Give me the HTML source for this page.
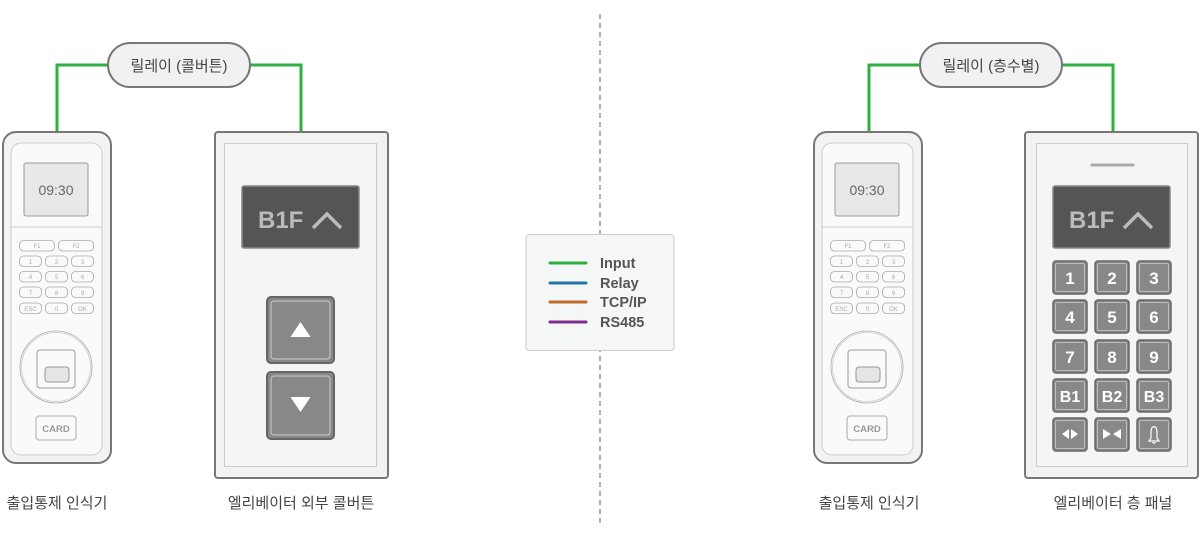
<!DOCTYPE html>
<html><head><meta charset="utf-8"><style>
html,body{margin:0;padding:0;background:#fff;}
svg{display:block;font-family:"Liberation Sans","Noto Sans CJK KR",sans-serif;}
</style></head><body>
<svg width="1200" height="538" viewBox="0 0 1200 538" xmlns="http://www.w3.org/2000/svg">
<defs>
<g id="reader">
  <rect x="3" y="132" width="108" height="331" rx="13" fill="#f3f3f3" stroke="#777" stroke-width="2"/>
  <rect x="11" y="143" width="91" height="312" rx="10" fill="#fafafa" stroke="#ccc" stroke-width="1"/>
  <line x1="11" y1="227" x2="102" y2="227" stroke="#ccc"/>
  <rect x="24" y="163" width="64" height="53" rx="2" fill="#e8e8e8" stroke="#999"/>
  <text x="56" y="195" font-size="14" fill="#666" text-anchor="middle">09:30</text>
  <g fill="none" stroke="#aaa" stroke-width="0.8">
    <rect x="19.5" y="240.5" width="35" height="10.5" rx="4"/>
    <rect x="58.5" y="240.5" width="35" height="10.5" rx="4"/>
    <rect x="19.5" y="256" width="22" height="10.5" rx="4"/><rect x="45.5" y="256" width="22" height="10.5" rx="4"/><rect x="71.5" y="256" width="22" height="10.5" rx="4"/>
    <rect x="19.5" y="271.5" width="22" height="10.5" rx="4"/><rect x="45.5" y="271.5" width="22" height="10.5" rx="4"/><rect x="71.5" y="271.5" width="22" height="10.5" rx="4"/>
    <rect x="19.5" y="287" width="22" height="10.5" rx="4"/><rect x="45.5" y="287" width="22" height="10.5" rx="4"/><rect x="71.5" y="287" width="22" height="10.5" rx="4"/>
    <rect x="19.5" y="303" width="22" height="10.5" rx="4"/><rect x="45.5" y="303" width="22" height="10.5" rx="4"/><rect x="71.5" y="303" width="22" height="10.5" rx="4"/>
  </g>
  <g font-size="6" fill="#aaa" text-anchor="middle">
    <text x="37" y="248">F1</text><text x="76" y="248">F2</text>
    <text x="30.5" y="264">1</text><text x="56.5" y="264">2</text><text x="82.5" y="264">3</text>
    <text x="30.5" y="279">4</text><text x="56.5" y="279">5</text><text x="82.5" y="279">6</text>
    <text x="30.5" y="295">7</text><text x="56.5" y="295">8</text><text x="82.5" y="295">9</text>
    <text x="30.5" y="311">ESC</text><text x="56.5" y="311">0</text><text x="82.5" y="311">OK</text>
  </g>
  <circle cx="56" cy="367" r="36" fill="none" stroke="#aaa" stroke-width="0.8"/>
  <circle cx="56" cy="367" r="34.5" fill="none" stroke="#ccc" stroke-width="0.8"/>
  <rect x="37" y="350" width="38" height="38" rx="3" fill="#fafafa" stroke="#999"/>
  <rect x="45" y="367" width="24" height="15" rx="3" fill="#e5e5e5" stroke="#999"/>
  <rect x="36" y="416" width="40" height="24" rx="3" fill="#fafafa" stroke="#aaa"/>
  <text x="56" y="432" font-size="9.5" font-weight="bold" fill="#999" text-anchor="middle">CARD</text>
</g>
</defs>

<line x1="600" y1="14" x2="600" y2="526" stroke="#999" stroke-width="1.5" stroke-dasharray="5,4"/>

<!-- green connectors -->
<g fill="none" stroke="#2db140" stroke-width="3">
  <polyline points="57,131 57,65 108,65"/>
  <polyline points="250,65 301,65 301,131"/>
  <polyline points="869,131 869,65 920,65"/>
  <polyline points="1062,65 1113,65 1113,131"/>
</g>
<rect x="108" y="43" width="142" height="44" rx="22" fill="#f1f1f1" stroke="#777" stroke-width="2"/>
<text x="179" y="71" font-size="15" fill="#444" text-anchor="middle">릴레이 (콜버튼)</text>
<rect x="920" y="43" width="142" height="44" rx="22" fill="#f1f1f1" stroke="#777" stroke-width="2"/>
<text x="991" y="71" font-size="15" fill="#444" text-anchor="middle">릴레이 (층수별)</text>

<use href="#reader"/>
<use href="#reader" transform="translate(811,0)"/>

<!-- call button panel -->
<rect x="215" y="132" width="173" height="346" rx="3" fill="#f2f2f2" stroke="#777" stroke-width="2"/>
<rect x="224.5" y="143.5" width="152" height="323" fill="#f5f5f5" stroke="#ccc"/>
<rect x="242" y="186" width="117" height="62" rx="2" fill="#555" stroke="#888" stroke-width="1.5"/>
<text x="258" y="228" font-size="24" font-weight="bold" fill="#bbb">B1F</text>
<polyline points="313,228 327,214 341,228" fill="none" stroke="#bbb" stroke-width="3.5"/>
<rect x="267" y="297" width="67" height="66" rx="4" fill="#888" stroke="#666" stroke-width="2"/>
<rect x="271" y="301" width="59" height="58" rx="3" fill="none" stroke="#ccc" stroke-width="1"/>
<polygon points="300.5,322 290.5,337 310.5,337" fill="#fff"/>
<rect x="267" y="372" width="67" height="67" rx="4" fill="#888" stroke="#666" stroke-width="2"/>
<rect x="271" y="376" width="59" height="59" rx="3" fill="none" stroke="#ccc" stroke-width="1"/>
<polygon points="290.5,397 310.5,397 300.5,412" fill="#fff"/>

<!-- floor panel -->
<rect x="1025" y="132" width="173" height="346" rx="3" fill="#f2f2f2" stroke="#777" stroke-width="2"/>
<rect x="1036.5" y="143.5" width="151" height="323" fill="#f5f5f5" stroke="#ccc"/>
<line x1="1092" y1="165" x2="1133" y2="165" stroke="#aaa" stroke-width="3" stroke-linecap="round"/>
<rect x="1053" y="186" width="117" height="62" rx="2" fill="#555" stroke="#888" stroke-width="1.5"/>
<text x="1069" y="228" font-size="24" font-weight="bold" fill="#bbb">B1F</text>
<polyline points="1124,228 1138,214 1152,228" fill="none" stroke="#bbb" stroke-width="3.5"/>
<g fill="#888" stroke="#666" stroke-width="1.5">
  <rect x="1053" y="261" width="34" height="33" rx="3"/><rect x="1095" y="261" width="34" height="33" rx="3"/><rect x="1137" y="261" width="34" height="33" rx="3"/>
  <rect x="1053" y="300" width="34" height="33" rx="3"/><rect x="1095" y="300" width="34" height="33" rx="3"/><rect x="1137" y="300" width="34" height="33" rx="3"/>
  <rect x="1053" y="340" width="34" height="33" rx="3"/><rect x="1095" y="340" width="34" height="33" rx="3"/><rect x="1137" y="340" width="34" height="33" rx="3"/>
  <rect x="1053" y="379" width="34" height="33" rx="3"/><rect x="1095" y="379" width="34" height="33" rx="3"/><rect x="1137" y="379" width="34" height="33" rx="3"/>
  <rect x="1053" y="418" width="34" height="33" rx="3"/><rect x="1095" y="418" width="34" height="33" rx="3"/><rect x="1137" y="418" width="34" height="33" rx="3"/>
</g>
<g fill="none" stroke="#ccc" stroke-width="0.8">
  <rect x="1055.5" y="263.5" width="29" height="28" rx="2"/><rect x="1097.5" y="263.5" width="29" height="28" rx="2"/><rect x="1139.5" y="263.5" width="29" height="28" rx="2"/>
  <rect x="1055.5" y="302.5" width="29" height="28" rx="2"/><rect x="1097.5" y="302.5" width="29" height="28" rx="2"/><rect x="1139.5" y="302.5" width="29" height="28" rx="2"/>
  <rect x="1055.5" y="342.5" width="29" height="28" rx="2"/><rect x="1097.5" y="342.5" width="29" height="28" rx="2"/><rect x="1139.5" y="342.5" width="29" height="28" rx="2"/>
  <rect x="1055.5" y="381.5" width="29" height="28" rx="2"/><rect x="1097.5" y="381.5" width="29" height="28" rx="2"/><rect x="1139.5" y="381.5" width="29" height="28" rx="2"/>
  <rect x="1055.5" y="420.5" width="29" height="28" rx="2"/><rect x="1097.5" y="420.5" width="29" height="28" rx="2"/><rect x="1139.5" y="420.5" width="29" height="28" rx="2"/>
</g>
<g font-size="17" font-weight="bold" fill="#fff" text-anchor="middle">
  <text x="1070" y="284">1</text><text x="1112" y="284">2</text><text x="1154" y="284">3</text>
  <text x="1070" y="323">4</text><text x="1112" y="323">5</text><text x="1154" y="323">6</text>
  <text x="1070" y="363">7</text><text x="1112" y="363">8</text><text x="1154" y="363">9</text>
  <text x="1070" y="402" font-size="16">B1</text><text x="1112" y="402" font-size="16">B2</text><text x="1154" y="402" font-size="16">B3</text>
</g>
<g fill="#fff">
  <polygon points="1069,429 1069,439 1062,434"/><polygon points="1071,429 1071,439 1078,434"/>
  <polygon points="1103,429 1103,439 1111,434"/><polygon points="1121,429 1121,439 1113,434"/>
</g>
<path d="M1149,441 L1159,441 L1157,438 L1157,432 Q1157,427 1154,426.5 Q1151,427 1151,432 L1151,438 Z M1152.5,442 Q1154,444.5 1155.5,442" fill="none" stroke="#fff" stroke-width="1.2"/>

<!-- legend -->
<rect x="526" y="234.5" width="148" height="116" rx="3" fill="#f5f6f6" stroke="#ccc"/>
<g stroke-width="3" stroke-linecap="round">
  <line x1="550" y1="263" x2="586" y2="263" stroke="#2db140"/>
  <line x1="550" y1="283" x2="586" y2="283" stroke="#2277aa"/>
  <line x1="550" y1="302" x2="586" y2="302" stroke="#bb6a2a"/>
  <line x1="550" y1="322" x2="586" y2="322" stroke="#7d2f8e"/>
</g>
<g font-size="14.5" font-weight="bold" fill="#555">
  <text x="600" y="268">Input</text><text x="600" y="288">Relay</text>
  <text x="600" y="307">TCP/IP</text><text x="600" y="327">RS485</text>
</g>

<g font-size="15" fill="#444" text-anchor="middle">
  <text x="57" y="508">출입통제 인식기</text>
  <text x="301" y="508">엘리베이터 외부 콜버튼</text>
  <text x="869" y="508">출입통제 인식기</text>
  <text x="1113" y="508">엘리베이터 층 패널</text>
</g>
</svg>
</body></html>
